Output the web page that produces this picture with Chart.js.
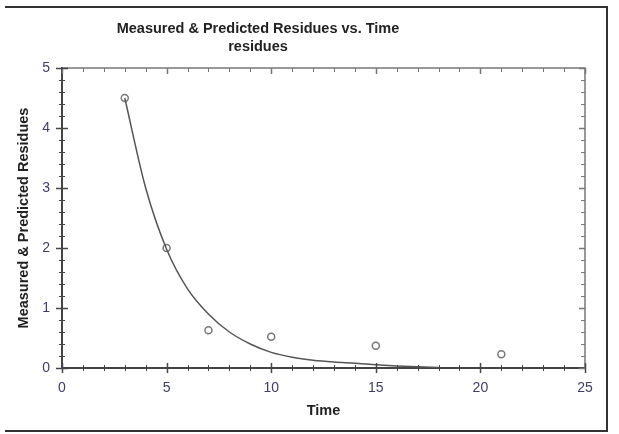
<!DOCTYPE html>
<html>
<head>
<meta charset="utf-8">
<script src="https://cdn.jsdelivr.net/npm/chart.js@4.4.1/dist/chart.umd.min.js"></script>
<style>
  body { margin: 0; background: #fff; }
  #wrap { width: 619px; height: 434px; }
</style>
</head>
<body>
<div id="wrap"><canvas id="residueChart" width="619" height="434"></canvas></div>
<script>
// measured points
const measuredTime = [3, 5, 7, 10, 15, 21];
const measuredResidue = [4.5, 2.0, 0.63, 0.52, 0.37, 0.23];

// predicted curve, sampled by eye every time unit
const predictedTime = [3, 4, 5, 6, 7, 8, 9, 10, 11, 12, 13, 14, 15, 16, 17, 18];
const predictedResidue = [4.5, 3.0, 1.98, 1.32, 0.9, 0.6, 0.4, 0.26, 0.18, 0.13, 0.1, 0.08, 0.055, 0.035, 0.02, 0.01];

const xTickLabels = ['0', '5', '10', '15', '20', '25'];
const yTickLabels = ['0', '1', '2', '3', '4', '5'];

const titleText = 'Measured & Predicted Residues vs. Time';
const subtitleText = 'residues';

const tickColor = '#3e3e68';
const fontFamily = '"Liberation Sans", Arial, sans-serif';

// frame, box, minor/major ticks and the title
const decorations = {
    id: 'decorations',
    afterDraw(chart) {
        const ctx = chart.ctx;
        const area = chart.chartArea;
        const xs = chart.scales.x;
        const ys = chart.scales.y;
        ctx.save();

        // outer frame (top, right, bottom)
        ctx.strokeStyle = '#333';
        ctx.lineWidth = 2;
        ctx.beginPath();
        ctx.moveTo(5, 7);
        ctx.lineTo(607, 7);
        ctx.lineTo(607, 431);
        ctx.lineTo(5, 431);
        ctx.stroke();

        // top and right of the plot box
        ctx.strokeStyle = '#777';
        ctx.lineWidth = 1.5;
        ctx.beginPath();
        ctx.moveTo(area.left, area.top);
        ctx.lineTo(area.right, area.top);
        ctx.lineTo(area.right, area.bottom);
        ctx.stroke();

        // x ticks every 1, major every 5
        for (let v = 0; v <= 25; v++) {
            const px = Math.round(xs.getPixelForValue(v)) + 0.5;
            const major = v % 5 === 0;
            ctx.lineWidth = major ? 1.5 : 1;
            ctx.strokeStyle = '#444';
            ctx.beginPath();
            ctx.moveTo(px, area.bottom - (major ? 5 : 3));
            ctx.lineTo(px, area.bottom + (major ? 5 : 3));
            ctx.stroke();
            ctx.strokeStyle = '#777';
            ctx.beginPath();
            ctx.moveTo(px, area.top);
            ctx.lineTo(px, area.top + (major ? 6 : 4));
            ctx.stroke();
        }

        // y ticks every 0.2, major every 1
        for (let i = 0; i <= 25; i++) {
            const py = Math.round(ys.getPixelForValue(i * 0.2)) + 0.5;
            const major = i % 5 === 0;
            ctx.lineWidth = major ? 1.5 : 1;
            ctx.strokeStyle = '#444';
            ctx.beginPath();
            ctx.moveTo(area.left - (major ? 6 : 3), py);
            ctx.lineTo(area.left + (major ? 6 : 3), py);
            ctx.stroke();
            ctx.strokeStyle = '#777';
            ctx.beginPath();
            ctx.moveTo(area.right, py);
            ctx.lineTo(area.right - (major ? 6 : 4), py);
            ctx.stroke();
        }

        // title
        ctx.fillStyle = '#222';
        ctx.font = 'bold 14.5px ' + fontFamily;
        ctx.textAlign = 'center';
        ctx.textBaseline = 'middle';
        ctx.fillText(titleText, 258, 29);
        ctx.fillText(subtitleText, 258, 47);
        ctx.restore();
    }
};

const ctx = document.getElementById('residueChart').getContext('2d');

new Chart(ctx, {
    type: 'scatter',
    data: {
        datasets: [
            {
                label: 'predicted',
                data: predictedTime.map((t, i) => ({x: t, y: predictedResidue[i]})),
                showLine: true,
                borderColor: '#555',
                borderWidth: 1.5,
                pointRadius: 0,
                cubicInterpolationMode: 'monotone',
                fill: false
            },
            {
                label: 'measured',
                data: measuredTime.map((t, i) => ({x: t, y: measuredResidue[i]})),
                showLine: false,
                pointRadius: 3.5,
                pointBorderColor: '#777',
                pointBorderWidth: 1.5,
                pointBackgroundColor: '#fff'
            }
        ]
    },
    options: {
        responsive: false,
        animation: false,
        layout: {
            padding: {top: 68, right: 34, left: 0, bottom: 0}
        },
        plugins: {
            legend: {display: false},
            tooltip: {enabled: false}
        },
        scales: {
            x: {
                type: 'linear',
                min: 0,
                max: 25,
                grid: {display: false, drawTicks: false},
                border: {display: true, color: '#444', width: 2},
                ticks: {
                    stepSize: 5,
                    padding: 12,
                    color: tickColor,
                    font: {family: fontFamily, size: 14},
                    callback: (v) => xTickLabels[v / 5]
                },
                title: {
                    display: true,
                    text: 'Time',
                    color: '#222',
                    padding: {bottom: 14},
                    font: {family: fontFamily, size: 14.5, weight: 'bold'}
                },
                afterFit: (scale) => { scale.height = 66; }
            },
            y: {
                type: 'linear',
                min: 0,
                max: 5,
                grid: {display: false, drawTicks: false},
                border: {display: true, color: '#444', width: 2},
                ticks: {
                    stepSize: 1,
                    padding: 12,
                    color: tickColor,
                    font: {family: fontFamily, size: 14},
                    callback: (v) => yTickLabels[v]
                },
                title: {
                    display: true,
                    text: 'Measured & Predicted Residues',
                    color: '#222',
                    padding: {top: 15},
                    font: {family: fontFamily, size: 14.5, weight: 'bold'}
                },
                afterFit: (scale) => { scale.width = 62; }
            }
        }
    },
    plugins: [decorations]
});
</script>
</body>
</html>
